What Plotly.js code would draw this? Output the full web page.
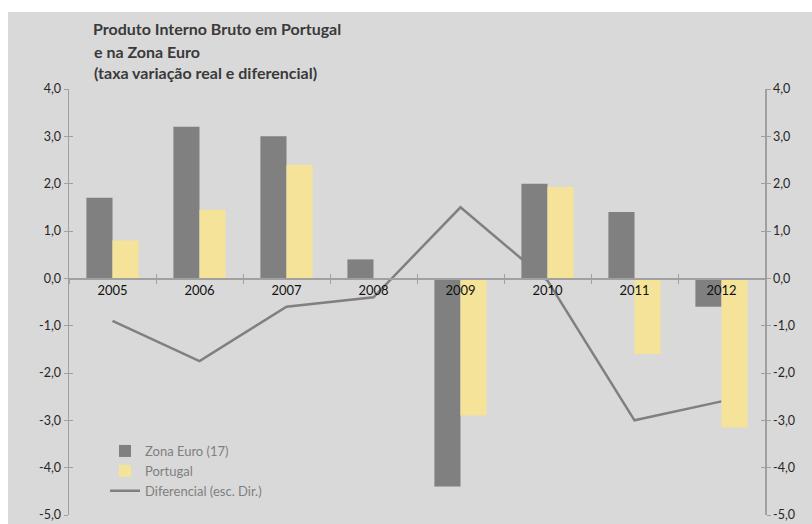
<!DOCTYPE html>
<html>
<head>
<meta charset="utf-8">
<script src="https://cdn.plot.ly/plotly-3.0.1.min.js"></script>
<style>html,body{margin:0;padding:0;background:#fff;}#chart{width:812px;height:524px;}</style>
</head>
<body>
<div id="chart"></div>
<script>
// Data
const years = ['2005','2006','2007','2008','2009','2010','2011','2012'];
const zonaEuro = [1.7, 3.2, 3.0, 0.4, -4.4, 2.0, 1.4, -0.6];
const portugal = [0.8, 1.45, 2.4, 0.0, -2.9, 1.93, -1.6, -3.15];
const diferencial = [-0.9, -1.75, -0.6, -0.4, 1.5, -0.05, -3.0, -2.6];
const yTicks = [-5, -4, -3, -2, -1, 0, 1, 2, 3, 4];
const yTickText = ['-5,0', '-4,0', '-3,0', '-2,0', '-1,0', '0,0', '1,0', '2,0', '3,0', '4,0'];

const FONT = 'Lato, "Open Sans", sans-serif';
const GREY = '#808080';
const YELLOW = '#f5e39a';
const AXIS = '#a0a0a0';
const TXT = '#262626';
const BG = '#d9d9d9';

const traces = [
  {type:'bar', name:'Zona Euro (17)', x:years, y:zonaEuro, xaxis:'x', yaxis:'y2',
   marker:{color:GREY}, hoverinfo:'x+y'},
  {type:'bar', name:'Portugal', x:years, y:portugal, xaxis:'x', yaxis:'y2',
   marker:{color:YELLOW}, hoverinfo:'x+y'},
  {type:'scatter', mode:'lines', name:'Diferencial (esc. Dir.)', x:years, y:diferencial,
   xaxis:'x', yaxis:'y', line:{color:GREY, width:2.5}},
  // empty helper traces so the inner-tick overlay axes are drawn
  {type:'scatter', x:[], y:[], xaxis:'x2', yaxis:'y', showlegend:false, hoverinfo:'skip'},
  {type:'scatter', x:[], y:[], xaxis:'x', yaxis:'y3', showlegend:false, hoverinfo:'skip'},
  {type:'scatter', x:[], y:[], xaxis:'x', yaxis:'y4', showlegend:false, hoverinfo:'skip'}
];

const yRange = [yTicks[0], yTicks[yTicks.length-1]];
const zeroPos = (0 - yRange[0]) / (yRange[1] - yRange[0]);

const yBase = {range:yRange, tickmode:'array', tickvals:yTicks, ticktext:yTickText,
  showgrid:false, zeroline:false, showline:true, linecolor:AXIS, linewidth:1.5,
  tickcolor:AXIS, ticklen:4, tickwidth:1, fixedrange:true,
  tickfont:{family:FONT, size:12.5, color:TXT}};

const TX = (92-69)/696;
const layout = {
  width:812, height:524,
  margin:{l:69, r:47, t:89, b:9, pad:0},
  paper_bgcolor:BG, plot_bgcolor:BG,
  separators:', ',
  font:{family:FONT, size:12, color:TXT},
  title:{text:'<b>Produto Interno Bruto em Portugal</b>', x:(93-69)/696, xref:'paper', xanchor:'left',
    y:1-29/524, yref:'container', yanchor:'middle', font:{family:FONT, size:16, color:'#3a3a3a'}},
  annotations:[
    {text:'<b>e na Zona Euro</b>', xref:'paper', yref:'paper', x:TX, y:(515-52)/426,
     xanchor:'left', yanchor:'middle', showarrow:false, font:{family:FONT, size:16, color:'#3a3a3a'}},
    {text:'<b>(taxa variação real e diferencial)</b>', xref:'paper', yref:'paper', x:TX, y:(515-73)/426,
     xanchor:'left', yanchor:'middle', showarrow:false, font:{family:FONT, size:16, color:'#3a3a3a'}}
  ],
  barmode:'group', bargap:0.4, bargroupgap:0,
  showlegend:true,
  legend:{x:(105-69)/696, y:(515-436)/426, xanchor:'left', yanchor:'top', bgcolor:'rgba(0,0,0,0)',
    font:{family:FONT, size:13, color:'#7f7f7f'}, traceorder:'normal', tracegroupgap:0},
  xaxis:{type:'category', categoryarray:years, categoryorder:'array', range:[-0.5, 7.5],
    anchor:'free', position:zeroPos, showline:true, linecolor:AXIS, linewidth:1.5,
    ticks:'outside', tickson:'boundaries', ticklen:4, tickcolor:AXIS, tickwidth:1,
    showgrid:false, zeroline:false, fixedrange:true,
    tickfont:{family:FONT, size:13, color:'#111'}},
  xaxis2:{type:'category', categoryarray:years, categoryorder:'array', range:[-0.5, 7.5],
    overlaying:'x', anchor:'free', position:zeroPos, showline:false,
    ticks:'inside', tickson:'boundaries', ticklen:4, tickcolor:AXIS, tickwidth:1,
    showticklabels:false, showgrid:false, zeroline:false, fixedrange:true},
  yaxis:Object.assign({}, yBase, {side:'left', ticks:'outside'}),
  yaxis2:Object.assign({}, yBase, {side:'right', overlaying:'y', anchor:'x', ticks:'outside'}),
  yaxis3:Object.assign({}, yBase, {side:'left', overlaying:'y', anchor:'x', ticks:'inside', showticklabels:false, showline:false}),
  yaxis4:Object.assign({}, yBase, {side:'right', overlaying:'y', anchor:'x', ticks:'inside', showticklabels:false, showline:false}),
  shapes:[
    {type:'rect', xref:'paper', yref:'paper', x0:-69/696-0.01, x1:(8-69)/696, y0:-0.05, y1:1.25,
     fillcolor:'#ffffff', line:{width:0}, layer:'below'},
    {type:'rect', xref:'paper', yref:'paper', x0:-0.12, x1:1.1, y0:(515-12)/426, y1:1.25,
     fillcolor:'#ffffff', line:{width:0}, layer:'below'}
  ]
};

Plotly.newPlot('chart', traces, layout, {displayModeBar:false, staticPlot:true});
</script>
</body>
</html>
